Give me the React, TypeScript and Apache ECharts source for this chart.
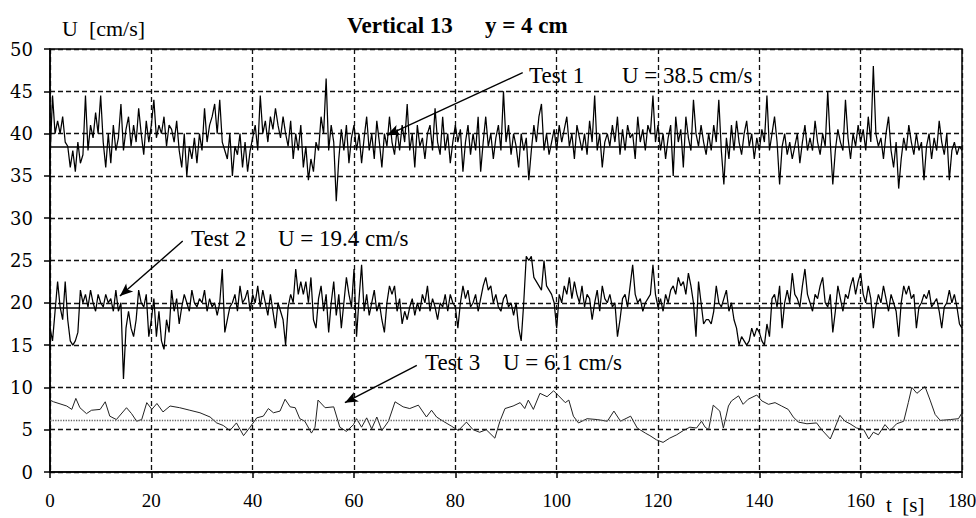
import React, { useEffect, useRef } from "react";
import * as echarts from "echarts";

// Sampling step of the two noisy records (seconds)
const SAMPLE_STEP_S = 0.5;

// Test 1 velocity record, cm/s (one value every 0.5 s, t = 0 … 180 s)
const test1Values: number[] = [
  37, 44.5, 40, 41.5, 40, 42, 39, 38.5, 36, 38, 35.5, 39, 36.5, 37.5, 44.5, 38, 41, 39.5, 42.5, 40,
  44.5, 39, 36, 40, 36.5, 41, 38, 39.5, 43.5, 38, 40.5, 42, 38.5, 41, 39, 43, 40, 37.5, 41.5, 39,
  41, 44, 39.5, 41, 40, 42, 38.5, 41, 40.5, 39, 41.5, 38, 36, 40, 35, 38.5, 37, 39.5, 36.5, 40,
  38, 43, 39, 41, 42, 43.5, 40, 44, 39, 38, 37, 40, 35, 38.5, 37.5, 40, 36, 39, 35.5, 38,
  39.5, 41, 38, 44.5, 40, 41.5, 39, 42, 40.5, 43, 41, 39.5, 42, 40, 38.5, 41.5, 37, 40, 38, 41,
  36, 38.5, 34.5, 37, 35.5, 39, 38, 42, 40, 46.5, 38, 41, 39, 32, 37, 40.5, 38, 41, 36.5, 39.5,
  41, 38, 40, 36.5, 39.5, 42, 38, 40, 37, 41.5, 39, 36, 40, 38.5, 42, 39, 37.5, 40.5, 38, 41,
  39, 43.5, 38, 40, 36, 41, 38.5, 39.5, 37, 40, 41, 38, 43, 39, 37.5, 42, 38, 40, 36.5, 39,
  41, 39, 40.5, 35.5, 39, 41, 37.5, 40, 38, 42, 35.5, 39, 42, 38.5, 40, 37, 39.5, 41, 38, 45,
  39, 41, 37.5, 40, 38.5, 36, 40, 38, 39.5, 34.5, 38, 41, 39, 42, 43.5, 38, 40, 37.5, 39, 40.5,
  38, 41, 39, 40.5, 42, 38.5, 40, 37, 41, 39.5, 38, 40, 37.5, 41.5, 39, 44.5, 38, 40, 36, 39,
  40, 38.5, 41, 39, 42, 37.5, 40.5, 38, 41, 39.5, 40, 37, 42, 39, 40.5, 38, 41, 40, 44.5, 39,
  41, 38, 40, 37, 39.5, 41, 35, 42, 39, 40.5, 36, 42, 39.5, 38, 44, 40, 38.5, 41, 39, 37.5,
  40, 38, 41, 39, 44, 38, 34, 39.5, 37, 41, 38, 41.5, 39, 37.5, 40, 41.5, 38.5, 40, 37, 39.5,
  38, 40.5, 39, 44.5, 38, 40, 42, 39, 34, 38.5, 40, 37.5, 39, 37, 38.5, 40, 36.5, 39, 41, 38,
  39.5, 38, 41.5, 39, 37.5, 40, 38.5, 45, 39, 34, 38, 40.5, 39, 38, 44, 39.5, 37, 40, 38.5, 41,
  39, 40.5, 38, 42, 39, 48, 40, 38.5, 39.5, 37, 40, 42, 38, 36, 39, 33.5, 37, 39.5, 38, 41,
  39, 37.5, 40, 38, 39, 34.5, 38.5, 40, 37, 39.5, 38, 41.5, 39, 37.5, 40, 34.5, 38, 39, 37.5, 38.5,
  38,
];

// Test 2 velocity record, cm/s (one value every 0.5 s)
const test2Values: number[] = [
  17, 15.5, 19, 22.5, 19.5, 18, 22.5, 18, 15.5, 15, 15.5, 16.5, 21.5, 20, 21, 19.5, 21.5, 20, 19, 21,
  20, 19.5, 21, 20, 20.5, 19, 21.5, 19, 20, 11, 17, 19, 17, 16, 18, 21.5, 20, 19.5, 21, 16,
  18, 20.5, 16, 19, 15.5, 14.5, 18, 16.5, 21.5, 19, 20.5, 17.5, 19.5, 21, 20, 19, 21.5, 20, 19.5, 20.5,
  20, 21.5, 19, 20.5, 19.5, 20, 18.5, 20, 24, 16.5, 18, 19.5, 20, 21, 19, 22, 20, 20.5, 21.5, 19,
  21, 20, 22, 19.5, 21.5, 20, 18.5, 21, 19, 17, 20, 19, 18, 15, 19.5, 21, 20, 24, 21, 22.5,
  21, 22.5, 20, 23, 18, 17, 20.5, 22, 19, 21, 16.5, 20, 22.5, 18.5, 21, 17, 20, 23, 21, 19.5,
  24, 16, 20.5, 24.5, 19, 21, 18.5, 20, 21.5, 19, 20, 18, 16.5, 20, 22, 21, 22, 19, 20.5, 17.5,
  19, 18, 19.5, 20.5, 18.5, 20, 19, 21, 20, 22, 19, 20.5, 19.5, 18, 20, 19.5, 21, 19, 21, 20,
  19.5, 17, 20, 22, 20.5, 21.5, 19.5, 20, 21, 19, 20.5, 22, 23, 21.5, 22, 20, 21, 19.5, 19, 20.5,
  21, 19.5, 20, 18.5, 20, 17, 15.5, 20, 25.5, 25, 25.5, 23, 22.5, 22, 21.5, 25, 22, 21.5, 21, 20,
  17, 21, 20, 22, 21, 23, 20.5, 22.5, 21, 20, 22, 19.5, 21, 20.5, 18, 20, 21.5, 19, 22, 20.5,
  20, 21, 19.5, 20, 16, 18, 20.5, 21, 19.5, 22, 24.5, 21, 20, 20.5, 19, 20, 20.5, 21, 24.5, 21,
  19.5, 20.5, 19, 21, 20, 21.5, 22, 21, 23, 22, 22.5, 21, 23.5, 22, 20, 16, 22.5, 20, 17.5, 18,
  18, 17.5, 19, 22, 20, 19.5, 20.5, 21.5, 19, 20, 18, 17, 15, 16, 15.5, 15, 15.5, 17, 16, 17,
  16.5, 15.5, 15, 17.5, 16, 20.5, 21, 19.5, 22, 17, 20, 21.5, 20, 23.5, 21, 20.5, 19.5, 22, 24, 21,
  20, 19, 21, 20.5, 22, 23, 20, 19.5, 21, 16.5, 19, 22, 20.5, 19, 21, 20.5, 22, 23, 21, 22.5,
  23.5, 21, 20, 22, 20.5, 17, 19.5, 21, 20, 22, 20.5, 19, 21, 20, 19, 16, 20, 22, 21, 22,
  20.5, 21, 17, 19.5, 20, 21, 20.5, 21.5, 19.5, 20, 20.5, 19, 17, 19.5, 20, 21.5, 20, 21, 19.5, 17.5,
  17,
];

// Test 3 velocity record: [t (s), U (cm/s)]
const test3Samples: [number, number][] = [
  [0, 8.5], [0.7, 8.3], [3.3, 7.8], [4.3, 7.4], [5.1, 8.7], [5.9, 7.6], [7.2, 6.9], [8.2, 7.3],
  [9.9, 7.4], [10.9, 8.3], [11.8, 6.6], [13.1, 6.2], [15.1, 7.6], [16.1, 6.9], [17.1, 6.0], [18.1, 6.2],
  [19.1, 8.2], [20.1, 7.4], [21.1, 8.1], [22.3, 7.1], [23.7, 7.8], [25.6, 7.6], [27.6, 7.3], [29.6, 7.0],
  [31.6, 6.5], [32.9, 5.8], [34.2, 5.5], [35.5, 4.9], [36.8, 5.8], [38.2, 4.3], [39.5, 5.3], [40.8, 6.4],
  [42.1, 6.6], [43.1, 7.5], [44.1, 7.0], [45.4, 7.2], [46.4, 8.6], [47.4, 7.7], [48.4, 7.6], [49.3, 6.3],
  [50.3, 6.0], [51.6, 4.6], [52.3, 5.3], [52.9, 8.5], [54.3, 7.6], [56, 7.7], [57.2, 5.3], [58.5, 4.8],
  [59.9, 5.6], [60.5, 6.3], [61.5, 5.3], [62.5, 6.4], [63.5, 5.1], [64.5, 6.5], [65.5, 4.9], [66.8, 6.0],
  [68.1, 8.3], [69.7, 7.7], [71, 7.5], [72.7, 7.9], [74.3, 6.5], [75.3, 7.3], [76.3, 6.5], [77.6, 6.0],
  [79.3, 5.4], [80.6, 4.9], [82.2, 5.9], [83.5, 5.0], [84.8, 4.7], [86.1, 5.0], [87.8, 4.0], [88.8, 6.0],
  [89.8, 7.5], [91.4, 7.8], [92.8, 8.2], [93.7, 7.5], [94.4, 8.5], [95.4, 7.4], [96.7, 9.3], [98.1, 8.9],
  [99.4, 9.6], [100.4, 9.0], [101.7, 8.2], [102.4, 8.5], [103.3, 6.6], [104.3, 5.8], [106, 6.3], [108, 6.2],
  [110, 6.0], [111.3, 7.2], [112.6, 6.0], [114.6, 6.6], [115.9, 5.2], [117.5, 4.6], [118.4, 4.3], [119.7, 3.8],
  [121, 3.5], [122.3, 4.0], [123.7, 4.4], [125, 4.9], [126.3, 5.3], [127.6, 5.2], [128.6, 6.0], [129.3, 5.3],
  [130, 5.0], [130.9, 7.9], [132.2, 7.2], [132.9, 5.2], [133.9, 7.8], [134.5, 8.4], [135.9, 9.0], [136.8, 8.0],
  [137.8, 8.6], [139.5, 9.1], [140.5, 8.4], [141.8, 8.0], [143.1, 8.2], [144.4, 7.8], [145.7, 7.4], [146.7, 6.5],
  [147.7, 5.9], [149.4, 5.7], [151.3, 5.8], [152.3, 5.0], [154, 3.9], [154.9, 5.2], [155.9, 6.7], [156.9, 6.0],
  [157.9, 5.7], [159.2, 5.2], [160.6, 5.0], [161.6, 3.9], [162.5, 4.7], [163.5, 4.4], [164.8, 5.6], [165.8, 4.9],
  [167.1, 5.7], [168.5, 6.0], [169.4, 8.2], [170.1, 10.0], [171.1, 9.3], [172.7, 10.1], [173.7, 8.5], [174.7, 6.8],
  [175.7, 6.1], [177.7, 6.2], [179.3, 6.3], [180, 7.0],
];

// Mean velocities (cm/s)
const meanTest1 = 38.5;
const meanTest2 = 19.4;
const meanTest3 = 6.1;

// Axis ranges
const xRange = { min: 0, max: 180, interval: 20 };
const yRange = { min: 0, max: 50, interval: 5 };

// Annotation texts
const titleLeft = "Vertical 13";
const titleRight = "y = 4 cm";
const yAxisTitle = "U  [cm/s]";
const xAxisTitle = "t  [s]";
const testNames = ["Test 1", "Test 2", "Test 3"];
const testMeans = ["U = 38.5 cm/s", "U = 19.4 cm/s", "U = 6.1 cm/s"];

// Arrow endpoints in data units [t, U]: from label towards the record
const arrowTest1: [number, number][] = [[93.3, 47.2], [66.5, 39.8]];
const arrowTest2: [number, number][] = [[26.2, 27.3], [13.8, 20.8]];
const arrowTest3: [number, number][] = [[72.4, 12.6], [58.2, 8.2]];

export default function App() {
  const ref = useRef<HTMLDivElement>(null);

  useEffect(() => {
    const el = ref.current;
    if (!el) return;
    const chart = echarts.init(el, undefined, { renderer: "svg" });
    const serif = "'Liberation Serif', 'Times New Roman', serif";
    const dash = { color: "#111", width: 1.3, type: [5, 3] as number[] };
    const toPairs = (vals: number[]) => vals.map((v, i) => [i * SAMPLE_STEP_S, v]);
    const arrow = (pts: [number, number][]) => [
      { coord: pts[0], symbol: "none", lineStyle: { color: "#000", width: 1.4, type: "solid" } },
      { coord: pts[1], symbol: "arrow", symbolSize: [8, 13] },
    ];
    const txt = (x: number, y: number, text: string, size: number, bold = false) => ({
      type: "text",
      x,
      y,
      silent: true,
      style: {
        text,
        fill: "#000",
        fontFamily: serif,
        fontSize: size,
        fontWeight: bold ? "bold" : "normal",
        textVerticalAlign: "middle",
      },
    });

    chart.setOption({
      animation: false,
      backgroundColor: "#fff",
      grid: {
        left: 50,
        right: 14,
        top: 49,
        bottom: 46,
        show: true,
        borderColor: "#000",
        borderWidth: 1.5,
        containLabel: false,
        outerBoundsMode: "none",
      },
      xAxis: {
        type: "value",
        ...xRange,
        axisLine: { show: true, onZero: false, lineStyle: { color: "#000", width: 1.5 } },
        axisTick: { show: true, length: 6, lineStyle: { color: "#000", width: 1.5 } },
        axisLabel: { color: "#000", fontFamily: serif, fontSize: 19, margin: 19 },
        splitLine: { show: true, lineStyle: dash },
      },
      yAxis: {
        type: "value",
        ...yRange,
        axisLine: { show: true, lineStyle: { color: "#000", width: 1.5 } },
        axisTick: { show: true, length: 6, lineStyle: { color: "#000", width: 1.5 } },
        axisLabel: { color: "#000", fontFamily: "'DejaVu Serif', serif", fontSize: 18, margin: 17 },
        splitLine: { show: true, lineStyle: dash },
      },
      series: [
        {
          name: "Test 1",
          type: "line",
          data: toPairs(test1Values),
          showSymbol: false,
          lineStyle: { color: "#000", width: 1.25 },
          z: 3,
          markLine: {
            silent: true,
            symbol: "none",
            label: { show: false },
            data: [
              { yAxis: meanTest1, lineStyle: { color: "#000", width: 1.6, type: "solid" } },
              arrow(arrowTest1),
            ],
          },
        },
        {
          name: "Test 2",
          type: "line",
          data: toPairs(test2Values),
          showSymbol: false,
          lineStyle: { color: "#000", width: 1.25 },
          z: 3,
          markLine: {
            silent: true,
            symbol: "none",
            label: { show: false },
            data: [
              { yAxis: meanTest2, lineStyle: { color: "#000", width: 1.6, type: "solid" } },
              arrow(arrowTest2),
            ],
          },
        },
        {
          name: "Test 3",
          type: "line",
          data: test3Samples,
          showSymbol: false,
          lineStyle: { color: "#222", width: 1 },
          z: 3,
          markLine: {
            silent: true,
            symbol: "none",
            label: { show: false },
            data: [
              { yAxis: meanTest3, lineStyle: { color: "#666", width: 1.3, type: "dotted" } },
              arrow(arrowTest3),
            ],
          },
        },
      ],
      graphic: [
        txt(347, 25, titleLeft, 23, true),
        txt(485, 25, titleRight, 23, true),
        txt(62, 28, yAxisTitle, 22),
        txt(886, 505, xAxisTitle, 21),
        txt(529, 75, testNames[0], 23),
        txt(622, 75, testMeans[0], 23),
        txt(191, 238, testNames[1], 23),
        txt(278, 238, testMeans[1], 23),
        txt(425, 362, testNames[2], 23),
        txt(503, 362, testMeans[2], 23),
      ],
    });

    return () => chart.dispose();
  }, []);

  return (
    <div
      ref={ref}
      style={{ position: "fixed", left: 0, top: 0, width: 976, height: 518, background: "#fff" }}
    />
  );
}
